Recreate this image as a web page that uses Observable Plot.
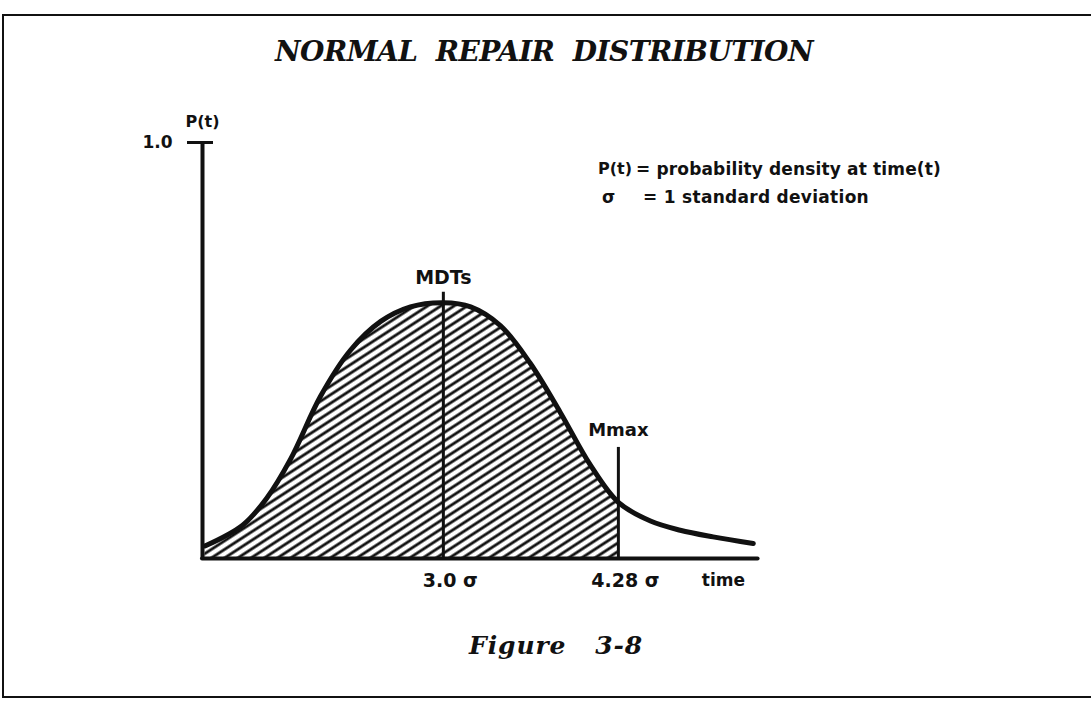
<!DOCTYPE html>
<html><head><meta charset="utf-8">
<script src="https://cdn.jsdelivr.net/npm/d3@7"></script>
<script src="https://cdn.jsdelivr.net/npm/@observablehq/plot@0.6"></script>
<style>
html,body{margin:0;padding:0;background:#fff;}
#page{position:relative;width:1091px;height:706px;overflow:hidden;background:#fff;color:#111;}
.rule{position:absolute;background:#111;}
.txt{position:absolute;white-space:pre;line-height:1;transform:translateY(-50%);display:inline-block;}
#title,#caption{font-family:"DejaVu Serif",serif;font-weight:bold;font-style:italic;}
.leg{font-family:"DejaVu Sans",sans-serif;font-weight:bold;font-size:17px;}
#chart{position:absolute;left:0;top:90px;}
</style></head><body>
<div id="page">
  <div class="rule" style="left:3px;top:14px;width:1088px;height:2px;"></div>
  <div class="rule" style="left:2px;top:14px;width:2px;height:684px;"></div>
  <div class="rule" style="left:2px;top:696px;width:1089px;height:2px;"></div>
  <div id="title" class="txt" style="left:275px;top:52px;font-size:28px;"></div>
  <div id="chart"></div>
  <div id="leg1s" class="txt leg" style="left:598px;top:169px;font-size:16px;"></div>
  <div id="leg1d" class="txt leg" style="left:636px;top:169px;"></div>
  <div id="leg2s" class="txt leg" style="left:602px;top:197px;"></div>
  <div id="leg2d" class="txt leg" style="left:643px;top:197px;"></div>
  <div id="caption" class="txt" style="left:469px;top:645px;font-size:25px;"></div>
</div>
<script>
// ---- data ----
const titleText = "NORMAL  REPAIR  DISTRIBUTION";
const captionText = "Figure   3-8";
// time in units of the drawn sigma spacing, density P(t)
const curveT = [0.03, 0.5, 0.8, 1.1, 1.47, 1.84, 2.22, 2.59, 3.0, 3.34, 3.71, 4.08, 4.46, 4.83, 5.18, 5.58, 5.95, 6.36, 6.86];
const curveP = [0.03, 0.08, 0.145, 0.24, 0.39, 0.50, 0.57, 0.605, 0.615, 0.605, 0.56, 0.47, 0.35, 0.225, 0.135, 0.09, 0.068, 0.052, 0.036];
const mdtX = 3.0, mdtTop = 0.64, mdtLabel = "MDTs";
const mmaxX = 5.18, mmaxTop = 0.267, mmaxLabel = "Mmax";
const axisEnd = 6.92;
const yTicks = [1.0];
const yTickLabels = ["1.0"];
const yLabel = "P(t)";
const xTicks = [3.0, 5.18];
const xTickLabels = ["3.0 σ", "4.28 σ"];
const xLabel = "time";
const legendSymbols = ["P(t)", "σ"];
const legendDefs = ["= probability density at time(t)", "= 1 standard deviation"];

// ---- text ----
function fit(el, target){
  el.style.letterSpacing = "0px";
  const w = el.getBoundingClientRect().width;
  el.style.letterSpacing = ((target - w) / el.textContent.length) + "px";
}
const setT = (id, t, w) => { const el = document.getElementById(id); el.textContent = t; if (w) fit(el, w); };
setT("title", titleText, 538);
setT("caption", captionText, 174);
setT("leg1s", legendSymbols[0]);
setT("leg1d", legendDefs[0], 305);
setT("leg2s", legendSymbols[1]);
setT("leg2d", legendDefs[1], 226);

// ---- chart ----
const data = curveT.map((t, i) => ({t, p: curveP[i]}));
const hatched = data.filter(d => d.t <= mmaxX);
const ink = "#111";

const defs = () => {
  const d = d3.create("svg:defs");
  const p = d.append("pattern").attr("id", "hatch").attr("patternUnits", "userSpaceOnUse")
    .attr("width", 12).attr("height", 7.2).attr("patternTransform", "rotate(-33)");
  p.append("line").attr("x1", -1).attr("x2", 13).attr("y1", 3.6).attr("y2", 3.6)
    .attr("stroke", ink).attr("stroke-width", 2.8);
  return d.node();
};

const chart = Plot.plot({
  width: 1091, height: 520,
  marginLeft: 202, marginRight: 327, marginTop: 52, marginBottom: 52,
  x: {domain: [0, 7], axis: null},
  y: {domain: [0, 1], axis: null},
  style: {background: "transparent", fontFamily: "DejaVu Sans, sans-serif", color: ink},
  marks: [
    defs,
    Plot.areaY(hatched, {x: "t", y: "p", fill: "url(#hatch)", curve: "catmull-rom"}),
    Plot.lineY(data, {x: "t", y: "p", stroke: ink, strokeWidth: 5, curve: "catmull-rom", strokeLinecap: "round"}),
    Plot.ruleX([0], {y1: 0, y2: 1, stroke: ink, strokeWidth: 4}),
    Plot.ruleY([0], {x1: 0, x2: axisEnd, stroke: ink, strokeWidth: 4, strokeLinecap: "round"}),
    Plot.ruleY(yTicks, {x1: 0, x2: 0, insetLeft: -15, insetRight: -11, stroke: ink, strokeWidth: 3}),
    Plot.ruleX([mdtX], {y1: 0, y2: mdtTop, stroke: ink, strokeWidth: 3}),
    Plot.ruleX([mmaxX], {y1: 0, y2: mmaxTop, stroke: ink, strokeWidth: 3}),
    Plot.text(yTicks, {x: 0, y: d => d, text: (d, i) => yTickLabels[i], textAnchor: "end", dx: -30, fontSize: 17, fontWeight: "bold", fill: ink}),
    Plot.text([yLabel], {x: 0, y: 1, text: d => d, dy: -21, fontSize: 16, fontWeight: "bold", fill: ink}),
    Plot.text([mdtLabel], {x: mdtX, y: mdtTop, text: d => d, dy: -14, fontSize: 19, fontWeight: "bold", fill: ink}),
    Plot.text([mmaxLabel], {x: mmaxX, y: mmaxTop, text: d => d, dy: -17, fontSize: 18, fontWeight: "bold", fill: ink}),
    Plot.text(xTicks, {x: d => d, y: 0, text: (d, i) => xTickLabels[i], dy: 22, dx: 7, fontSize: 19, fontWeight: "bold", fill: ink}),
    Plot.text([xLabel], {x: axisEnd, y: 0, text: d => d, textAnchor: "end", dx: -13, dy: 22, fontSize: 17, fontWeight: "bold", fill: ink})
  ]
});
document.getElementById("chart").appendChild(chart);
</script>
</body></html>
